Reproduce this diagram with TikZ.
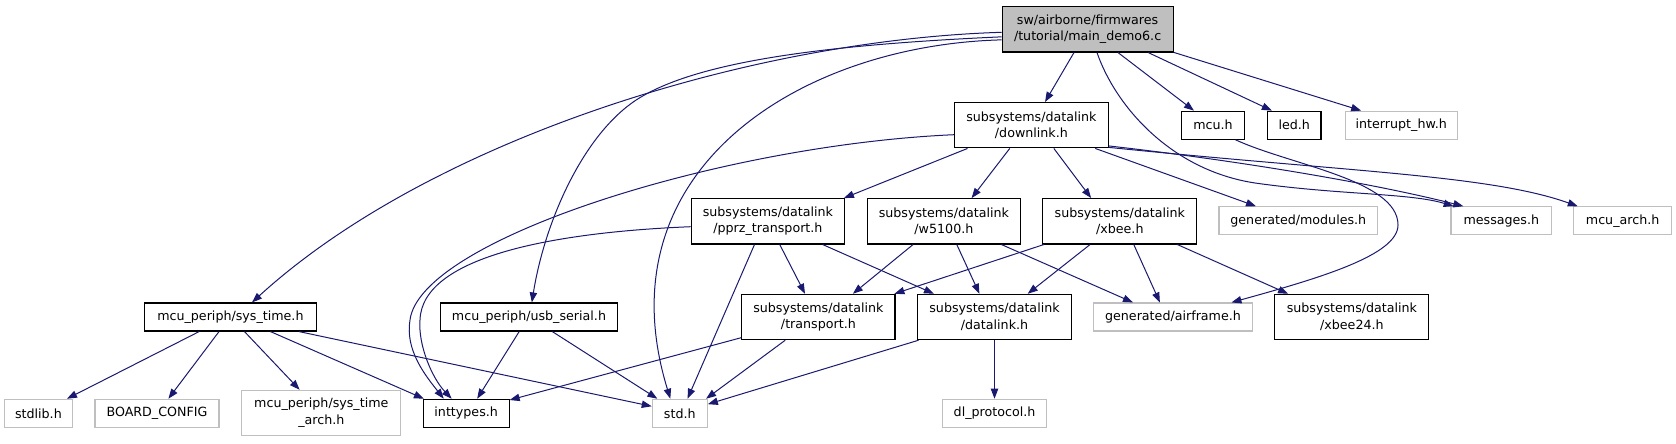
\documentclass[tikz,border=0pt]{standalone}
\usepackage{fontspec}
\setmainfont{DejaVu Sans}
\usetikzlibrary{arrows.meta}
\definecolor{edgeblue}{HTML}{191970}
\definecolor{lgrey}{HTML}{BFBFBF}
\begin{document}
\begin{tikzpicture}[x=0.75pt,y=-0.75pt,
  every node/.style={font=\fontsize{9.5}{12.5}\selectfont, inner sep=0pt, align=center},
  bx/.style={draw=black, line width=0.85pt, fill=white},
  gx/.style={draw=lgrey, line width=0.85pt, fill=white},
  one/.style={minimum height=21pt},
  two/.style={minimum height=34pt},
  dep/.style={draw=edgeblue, line width=0.75pt, -{Triangle[length=7.5pt,width=5.5pt]}}
]
\useasboundingbox (0,0) rectangle (1676,443);
% nodes
\node[bx,two,fill=lgrey,minimum width=128.25pt] (main) at (1087.6,29.3) {sw/airborne/firmwares\\/tutorial/main\_demo6.c};
\node[bx,two,minimum width=115.2pt] (downlink) at (1031.4,125.2) {subsystems/datalink\\/downlink.h};
\node[bx,one,minimum width=46.95pt] (mcu) at (1213,125.2) {mcu.h};
\node[bx,one,minimum width=40pt] (led) at (1294.3,125.2) {led.h};
\node[gx,one,minimum width=84.2pt] (inthw) at (1401.2,125.2) {interrupt\_hw.h};
\node[bx,two,minimum width=115.1pt] (pprz) at (767.9,221.3) {subsystems/datalink\\/pprz\_transport.h};
\node[bx,two,minimum width=115.2pt] (w5100) at (943.9,221.3) {subsystems/datalink\\/w5100.h};
\node[bx,two,minimum width=115.35pt] (xbee) at (1119.8,221.3) {subsystems/datalink\\/xbee.h};
\node[gx,one,minimum width=119pt] (modules) at (1298.3,220.8) {generated/modules.h};
\node[gx,one,minimum width=75.5pt] (messages) at (1501.3,220.8) {messages.h};
\node[gx,one,minimum width=73.1pt] (mcuarch) at (1622.6,220.8) {mcu\_arch.h};
\node[bx,one,minimum width=128.6pt] (systime) at (230.4,317) {mcu\_periph/sys\_time.h};
\node[bx,one,minimum width=133.1pt] (usb) at (529,317) {mcu\_periph/usb\_serial.h};
\node[bx,two,minimum width=114.9pt] (transport) at (818.4,317) {subsystems/datalink\\/transport.h};
\node[bx,two,minimum width=115.5pt] (datalink) at (994.5,317) {subsystems/datalink\\/datalink.h};
\node[gx,one,minimum width=119.7pt] (airframe) at (1173,317) {generated/airframe.h};
\node[bx,two,minimum width=115.5pt] (xbee24) at (1351.9,317) {subsystems/datalink\\/xbee24.h};
\node[gx,one,minimum width=51.15pt] (stdlib) at (38.4,413.3) {stdlib.h};
\node[gx,one,minimum width=93pt] (board) at (157,413.3) {BOARD\_CONFIG};
\node[gx,two,minimum width=119.25pt] (sysarch) at (321.3,413) {mcu\_periph/sys\_time\\\_arch.h};
\node[bx,one,minimum width=64.3pt] (inttypes) at (466.2,413.3) {inttypes.h};
\node[gx,one,minimum width=41.25pt] (std) at (679.8,413.3) {std.h};
\node[gx,one,minimum width=78.5pt] (dlproto) at (994.5,413.3) {dl\_protocol.h};
% edges from main
\draw[dep] (main.182) .. controls (750,40) and (430,140) .. (systime.34);
\draw[dep] (main.185) .. controls (820,45) and (700,62) .. (641,97) .. controls (585,130) and (545,220) .. (usb.79);
\draw[dep] (main.187) .. controls (800,45) and (600,170) .. (std.123);
\draw[dep] (main) -- (downlink);
\draw[dep] (main) -- (mcu);
\draw[dep] (main.-21) -- (led.147);
\draw[dep] (main.-15) -- (inthw.160);
\draw[dep] (main.-68) .. controls (1115,105) and (1170,170) .. (1255,183) .. controls (1340,195) and (1410,193) .. (messages.163);
% edges from downlink
\draw[dep] (downlink.187) .. controls (720,145) and (420,240) .. (410,320) .. controls (405,350) and (425,375) .. (inttypes.147);
\draw[dep] (downlink.200) -- (pprz.17);
\draw[dep] (downlink.227) -- (w5100.40);
\draw[dep] (downlink.-46) -- (xbee.141);
\draw[dep] (downlink.-20) -- (modules.161);
\draw[dep] (downlink.-15) .. controls (1250,162) and (1380,185) .. (messages.159);
\draw[dep] (downlink.-16) .. controls (1350,172) and (1490,175) .. (mcuarch.162);
% mcu
\draw[dep] (mcu.-33) .. controls (1290,165) and (1398,180) .. (1398,225) .. controls (1398,255) and (1320,278) .. (airframe.14);
% pprz
\draw[dep] (pprz.184) .. controls (560,232) and (422,255) .. (420,320) .. controls (418,345) and (432,378) .. (inttypes.135);
\draw[dep] (pprz.-63) -- (transport.120);
\draw[dep] (pprz.-23) -- (datalink.159);
\draw[dep] (pprz.240) -- (std.62);
% w5100
\draw[dep] (w5100.217) -- (transport.34);
\draw[dep] (w5100.-61) -- (datalink.123);
\draw[dep] (w5100.-22) -- (airframe.160);
% xbee
\draw[dep] (xbee.197) -- (transport.17);
\draw[dep] (xbee.218) -- (datalink.35);
\draw[dep] (xbee.-59) -- (airframe.132);
\draw[dep] (xbee.-22) -- (xbee24.160);
% sys_time
\draw[dep] (systime.205) -- (stdlib.27);
\draw[dep] (systime.232) -- (board.52);
\draw[dep] (systime.-46) -- (sysarch.133);
\draw[dep] (systime.-20) -- (inttypes.161);
\draw[dep] (systime.-12) -- (std.166);
% usb_serial
\draw[dep] (usb.236) -- (inttypes.53);
\draw[dep] (usb.-32) -- (std.147);
% transport
\draw[dep] (transport.195) -- (inttypes.17);
\draw[dep] (transport.215) -- (std.29);
% datalink
\draw[dep] (datalink.197) -- (std.18);
\draw[dep] (datalink) -- (dlproto);
\end{tikzpicture}
\end{document}
